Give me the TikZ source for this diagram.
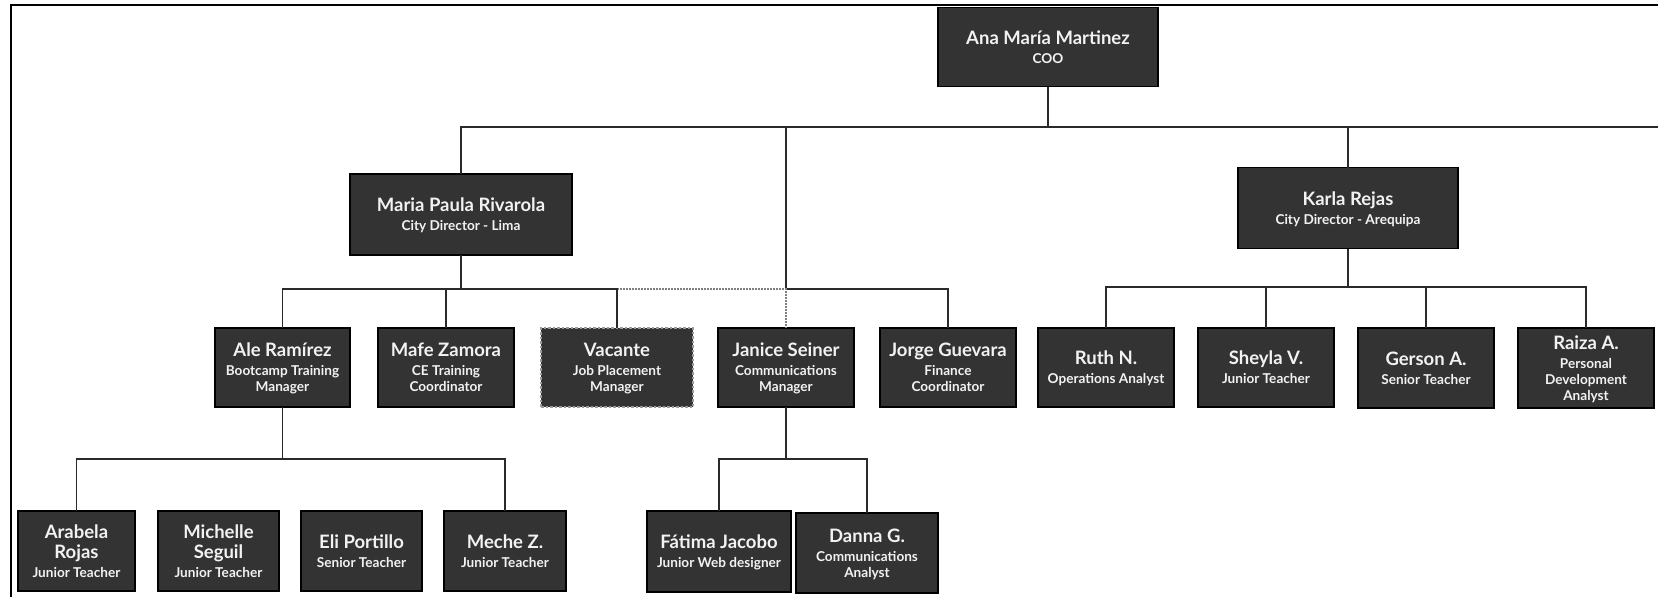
\documentclass[tikz,border=0pt]{standalone}
\usepackage{fontspec}
\setmainfont{Lato}
\definecolor{boxgray}{HTML}{333333}
\definecolor{boxtext}{HTML}{F2F2F2}
\definecolor{linkgray}{HTML}{2A2A2A}
\definecolor{dashgray}{HTML}{9A9A9A}
% name and role lines inside a person box
\newcommand\pname[1]{{\fontsize{18.5}{20}\selectfont #1}}
\newcommand\prole[1]{{\fontsize{13.6}{16}\selectfont #1}}
\begin{document}
\begin{tikzpicture}[x=1pt,y=-1pt,
  person/.style={draw=black, line width=1.4pt, fill=boxgray, text=boxtext,
    inner sep=0pt, outer sep=0pt, align=center, text depth=-3pt,
    font=\bfseries\fontsize{13.6}{16}\selectfont},
  vacant/.style={person, draw=dashgray, dash pattern=on 2.5pt off 2pt},
  link/.style={draw=linkgray, line width=1.7pt},
  dotlink/.style={draw=gray, line width=1.5pt, dash pattern=on 1.5pt off 1.5pt},
  frame/.style={draw=black, line width=2pt}]
\useasboundingbox (0,0) rectangle (1658,597);

% page frame
\draw[frame] (10.5,597) -- (10.5,5) -- (1658,5);

% top level
\node[person, minimum width=220, minimum height=79] (coo) at (1048,47)
  {\pname{Ana María Martinez}\\[3pt]\prole{COO}};

% city directors
\node[person, minimum width=222, minimum height=81] (maria) at (461,214.5)
  {\pname{Maria Paula Rivarola}\\[3pt]\prole{City Director - Lima}};
\node[person, minimum width=220, minimum height=81] (karla) at (1348,208)
  {\pname{Karla Rejas}\\[3pt]\prole{City Director - Arequipa}};

% second row
\node[person, minimum width=135, minimum height=79] (ale) at (282.5,367.5)
  {\pname{Ale Ramírez}\\[3pt]\prole{Bootcamp Training}\\\prole{Manager}};
\node[person, minimum width=136, minimum height=79] (mafe) at (446,367.5)
  {\pname{Mafe Zamora}\\[3pt]\prole{CE Training}\\\prole{Coordinator}};
\node[vacant, minimum width=152, minimum height=79] (vacante) at (617,367.5)
  {\pname{Vacante}\\[3pt]\prole{Job Placement}\\\prole{Manager}};
\node[person, minimum width=136, minimum height=79] (janice) at (786,367.5)
  {\pname{Janice Seiner}\\[3pt]\prole{Communications}\\\prole{Manager}};
\node[person, minimum width=136, minimum height=79] (jorge) at (948,367.5)
  {\pname{Jorge Guevara}\\[3pt]\prole{Finance}\\\prole{Coordinator}};
\node[person, minimum width=136, minimum height=79] (ruth) at (1106,367.5)
  {\pname{Ruth N.}\\[3pt]\prole{Operations Analyst}};
\node[person, minimum width=136, minimum height=79] (sheyla) at (1266,367.5)
  {\pname{Sheyla V.}\\[3pt]\prole{Junior Teacher}};
\node[person, minimum width=136, minimum height=80] (gerson) at (1426,368)
  {\pname{Gerson A.}\\[3pt]\prole{Senior Teacher}};
\node[person, minimum width=136, minimum height=80] (raiza) at (1586,368)
  {\pname{Raiza A.}\\[3pt]\prole{Personal}\\\prole{Development}\\\prole{Analyst}};

% third row
\node[person, minimum width=117, minimum height=80] (arabela) at (76.5,551)
  {\pname{Arabela}\\[4pt]\pname{Rojas}\\[3pt]\prole{Junior Teacher}};
\node[person, minimum width=121, minimum height=80] (michelle) at (218.5,551)
  {\pname{Michelle}\\[4pt]\pname{Seguil}\\[3pt]\prole{Junior Teacher}};
\node[person, minimum width=121, minimum height=80] (eli) at (361.5,551)
  {\pname{Eli Portillo}\\[3pt]\prole{Senior Teacher}};
\node[person, minimum width=122, minimum height=80] (meche) at (505,551)
  {\pname{Meche Z.}\\[3pt]\prole{Junior Teacher}};
\node[person, minimum width=144, minimum height=81] (fatima) at (719,551.5)
  {\pname{Fátima Jacobo}\\[3pt]\prole{Junior Web designer}};
\node[person, minimum width=142, minimum height=80] (danna) at (867,553)
  {\pname{Danna G.}\\[3pt]\prole{Communications}\\\prole{Analyst}};

% bus heights
\coordinate (topbus) at (0,127);
\coordinate (topend) at (1658,127);
\coordinate (midbus) at (0,289);
\coordinate (aqpbus) at (0,287);
\coordinate (lowbus) at (0,459);

% COO level
\draw[link] (coo.south) -- (coo.south |- topbus);
\draw[link] (maria.north) -- (maria.north |- topbus) -- (topend);
\draw[link] (karla.north) -- (karla.north |- topbus);
\draw[link] (janice.north |- topbus) -- (janice.north |- midbus)
  -- (jorge.north |- midbus) -- (jorge.north);
\draw[dotlink] (vacante.north |- midbus) -- (janice.north |- midbus) -- (janice.north);

% Lima
\draw[link] (maria.south) -- (maria.south |- midbus);
\draw[link] (ale.north) -- (ale.north |- midbus) -- (vacante.north |- midbus) -- (vacante.north);
\draw[link] (mafe.north) -- (mafe.north |- midbus);

% Arequipa
\draw[link] (karla.south) -- (karla.south |- aqpbus);
\draw[link] (ruth.north) -- (ruth.north |- aqpbus) -- (raiza.north |- aqpbus) -- (raiza.north);
\draw[link] (sheyla.north) -- (sheyla.north |- aqpbus);
\draw[link] (gerson.north) -- (gerson.north |- aqpbus);

% teachers
\draw[link] (ale.south) -- (ale.south |- lowbus);
\draw[link] (arabela.north) -- (arabela.north |- lowbus) -- (meche.north |- lowbus) -- (meche.north);

% communications
\draw[link] (janice.south) -- (janice.south |- lowbus);
\draw[link] (fatima.north) -- (fatima.north |- lowbus) -- (danna.north |- lowbus) -- (danna.north);
\end{tikzpicture}
\end{document}
